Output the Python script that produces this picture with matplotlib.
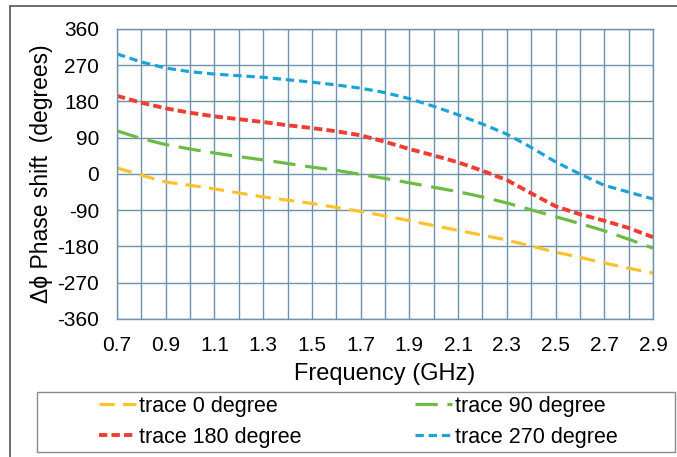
import matplotlib.pyplot as plt
from matplotlib.patches import Rectangle

plt.rcParams['font.family'] = ['Liberation Sans', 'DejaVu Sans']
plt.rcParams['lines.scale_dashes'] = False
plt.rcParams['axes.unicode_minus'] = False

freq = [0.7, 0.8, 0.9, 1.0, 1.1, 1.2, 1.3, 1.4, 1.5, 1.6, 1.7, 1.8,
        1.9, 2.0, 2.1, 2.2, 2.3, 2.4, 2.5, 2.6, 2.7, 2.8, 2.9]
trace0 = [15, -3, -20, -28, -37, -47, -57, -65, -73, -83, -93, -104,
          -116, -128, -140, -152, -164, -179, -194, -207, -221, -234, -246]
trace90 = [107, 88, 73, 62, 52, 43, 35, 26, 17, 9, -1, -11,
           -22, -33, -44, -57, -72, -89, -106, -123, -141, -162, -184]
trace180 = [194, 177, 163, 152, 143, 136, 129, 121, 114, 106, 96, 80,
            62, 46, 29, 8, -15, -48, -80, -100, -116, -134, -157]
trace270 = [298, 278, 263, 254, 248, 244, 240, 234, 228, 221, 213, 202,
            187, 168, 147, 124, 99, 66, 30, 0, -28, -45, -62]

xticks = [0.7, 0.9, 1.1, 1.3, 1.5, 1.7, 1.9, 2.1, 2.3, 2.5, 2.7, 2.9]
yticks = [-360, -270, -180, -90, 0, 90, 180, 270, 360]

fig = plt.figure(figsize=(6.77, 4.57), dpi=100)
ax = fig.add_axes([0.1728, 0.302, 0.7917, 0.6346])

lw = 2.3
l0, = ax.plot(freq, trace0, color='#FFC22E', lw=lw, dashes=(11, 6), label='trace 0 degree')
l90, = ax.plot(freq, trace90, color='#6CBB45', lw=lw, dashes=(16, 7), label='trace 90 degree')
l180, = ax.plot(freq, trace180, color='#EE3E34', lw=lw + 0.5, dashes=(6, 3), label='trace 180 degree')
l270, = ax.plot(freq, trace270, color='#1CA3D6', lw=lw, dashes=(6, 3.5), label='trace 270 degree')

ax.set_xlim(0.7, 2.9)
ax.set_ylim(-360, 360)
ax.set_xticks(xticks)
ax.set_xticklabels([f'{v:.1f}' for v in xticks])
ax.set_xticks([round(0.8 + 0.2 * i, 1) for i in range(11)], minor=True)
ax.set_yticks(yticks)
ax.tick_params(length=0, which='both', labelsize=15)
ax.tick_params(axis='y', pad=13)
ax.tick_params(axis='x', pad=12)
ax.grid(True, which='both', color='#6F93AC', lw=1.0)
ax.set_axisbelow(True)
for s in ax.spines.values():
    s.set_color('#6F93AC')
    s.set_linewidth(1.0)

ax.set_xlabel('Frequency (GHz)', fontsize=17, labelpad=6)
ax.set_ylabel('\u0394\u03d5 Phase shift  (degrees)', fontsize=16.5, labelpad=3)

# outer frame and legend box
fig.add_artist(Rectangle((10 / 677, -0.01), 1.0, 1 - 6 / 457 + 0.01,
                         transform=fig.transFigure, fill=False, ec='#555555', lw=1.2))
fig.add_artist(Rectangle((37 / 677, 5 / 457), 638 / 677, 60 / 457,
                         transform=fig.transFigure, fill=False, ec='#8a8a8a', lw=1.0))

leg_handles = [l0, l180, l90, l270]
fig.legend(leg_handles, [h.get_label() for h in leg_handles], ncol=2, frameon=False,
           loc='upper left', bbox_to_anchor=(99 / 677, 1 - 396 / 457),
           fontsize=15.5, handlelength=1.7, handletextpad=0.15, columnspacing=5.3,
           labelspacing=0.45, borderpad=0, borderaxespad=0)

fig.savefig('out.png', dpi=100)
